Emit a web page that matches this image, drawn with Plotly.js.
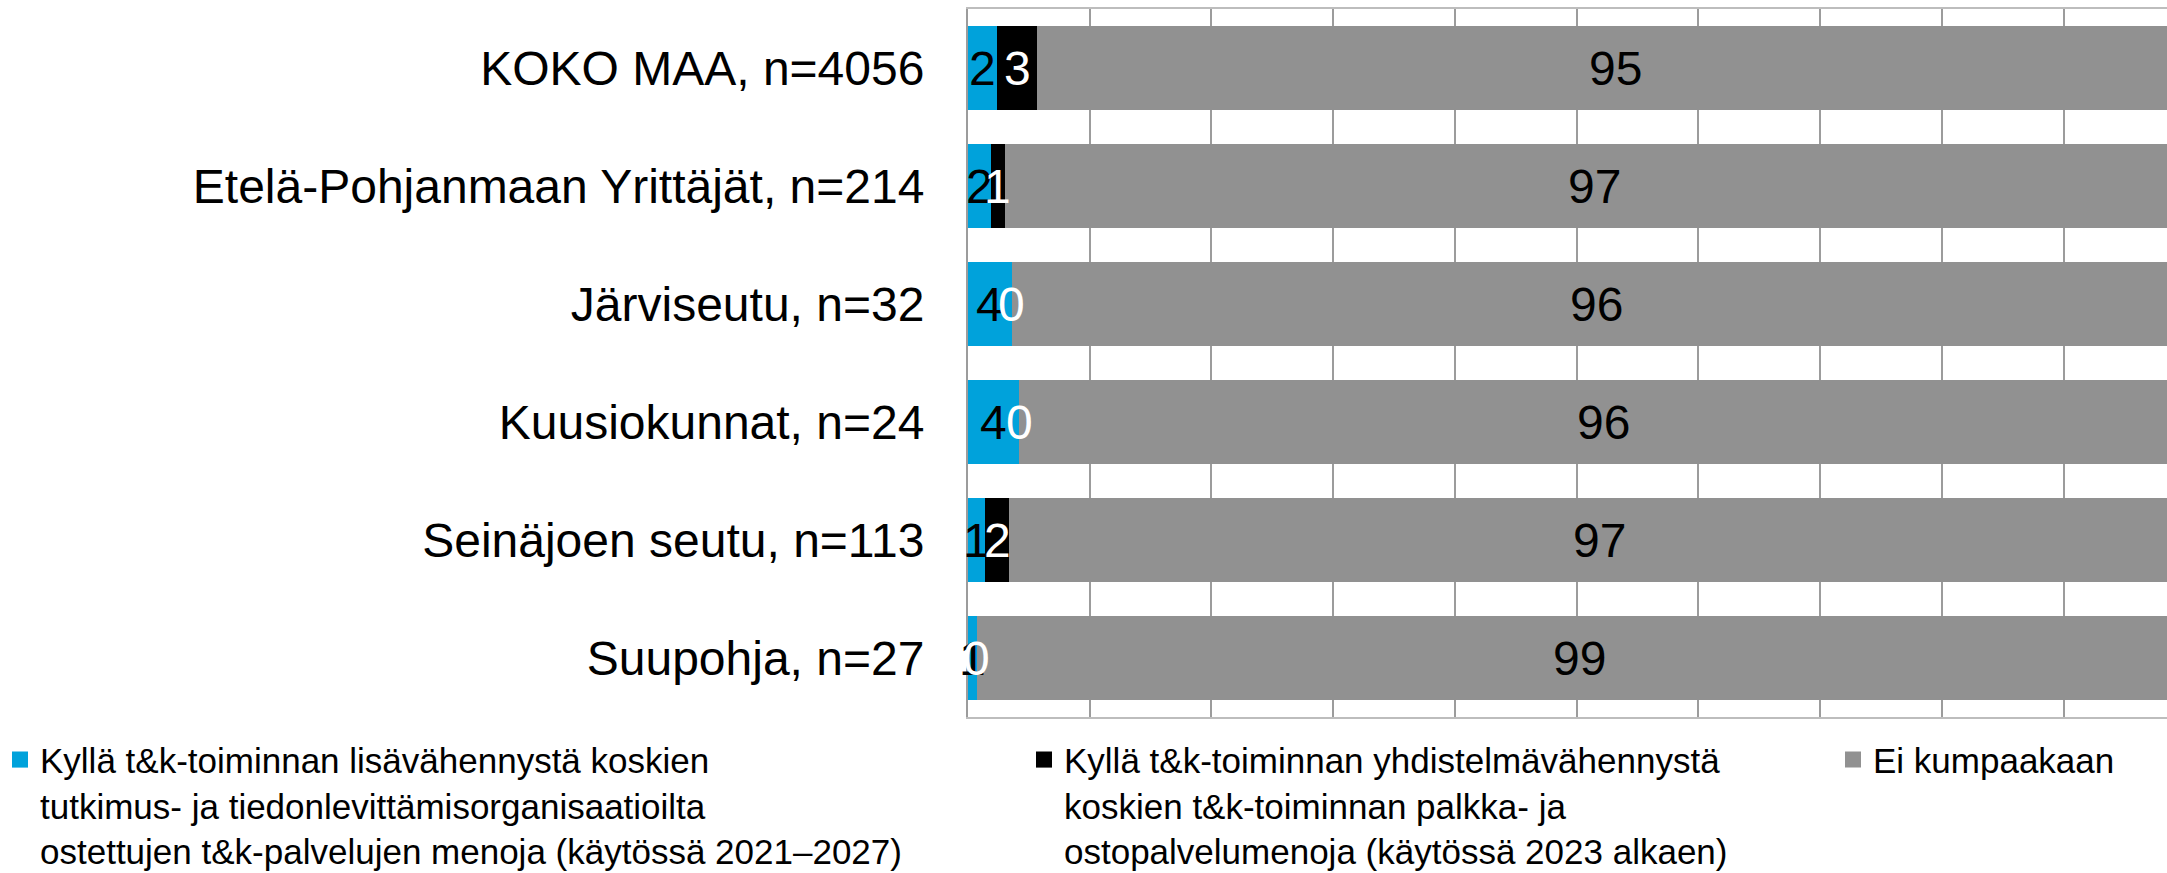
<!DOCTYPE html>
<html><head><meta charset="utf-8">
<script src="https://cdn.plot.ly/plotly-3.0.1.min.js"></script>
<style>html,body{margin:0;padding:0;background:#fff}#chart{width:2167px;height:873px}</style>
</head><body><div id="chart"></div>
<script>
const categories = ["KOKO MAA, n=4056", "Etelä-Pohjanmaan Yrittäjät, n=214", "Järviseutu, n=32", "Kuusiokunnat, n=24", "Seinäjoen seutu, n=113", "Suupohja, n=27"];
const seriesNames = [
  "Kyllä t&k-toiminnan lisävähennystä koskien<br>tutkimus- ja tiedonlevittämisorganisaatioilta<br>ostettujen t&k-palvelujen menoja (käytössä 2021–2027)",
  "Kyllä t&k-toiminnan yhdistelmävähennystä<br>koskien t&k-toiminnan palkka- ja<br>ostopalvelumenoja (käytössä 2023 alkaen)",
  "Ei kumpaakaan"
];
const lisavahennys = [2.4, 1.9, 3.6, 4.2, 1.4, 0.7];
const yhdistelma = [3.3, 1.1, 0, 0, 2.0, 0];
const eiKumpaakaan = [95, 97, 96, 96, 97, 99];
const colors = ["#00A2DB", "#000000", "#919191"];
const labelColors = ["#000000", "#ffffff", "#000000"];

const FONT = "Liberation Sans, Arial, sans-serif";
const series = [lisavahennys, yhdistelma, eiKumpaakaan];
const legendIds = ["legend", "legend2", "legend3"];

const traces = [];
series.forEach((vals, s) => {
  traces.push({
    type: "bar", orientation: "h", x: vals, y: categories,
    marker: {color: colors[s], line: {width: 0}},
    showlegend: false, hoverinfo: "skip"
  });
});
series.forEach((vals, s) => {
  traces.push({
    type: "scatter", mode: "markers", x: [null], y: [null],
    name: seriesNames[s], legend: legendIds[s],
    marker: {symbol: "square", size: 16, color: colors[s]},
    hoverinfo: "skip"
  });
});

const annotations = [];
const base = categories.map(() => 0);
series.forEach((vals, s) => {
  vals.forEach((v, i) => {
    annotations.push({
      x: base[i] + v / 2, y: categories[i], xref: "x", yref: "y",
      text: String(Math.round(v)), showarrow: false,
      font: {family: FONT, size: 48, color: labelColors[s]}
    });
    base[i] += v;
  });
});

const legendCommon = {
  orientation: "h", xref: "container", yref: "container",
  xanchor: "left", yanchor: "top", valign: "top",
  font: {family: FONT, size: 35, color: "#000000"},
  bgcolor: "rgba(0,0,0,0)", borderwidth: 0, itemwidth: 30,
  y: 0.1634
};

const layout = {
  width: 2167, height: 873,
  margin: {l: 968, r: 0, t: 9, b: 156, pad: 0},
  paper_bgcolor: "#ffffff", plot_bgcolor: "#ffffff",
  barmode: "stack", bargap: 0.29,
  hovermode: false,
  font: {family: FONT, color: "#000000"},
  xaxis: {
    range: [0, 98.5], tick0: 0, dtick: 10,
    showgrid: true, gridcolor: "#9c9c9c", gridwidth: 2,
    showticklabels: false, ticks: "", zeroline: false,
    showline: true, mirror: true, linecolor: "#bdbdbd", linewidth: 2,
    fixedrange: true
  },
  yaxis: {
    type: "category", categoryorder: "array", categoryarray: categories,
    autorange: "reversed",
    tickfont: {family: FONT, size: 48, color: "#000000"},
    ticks: "", ticklabelstandoff: 32,
    showgrid: false, zeroline: false,
    showline: true, linecolor: "#9c9c9c", linewidth: 2,
    fixedrange: true
  },
  legend: Object.assign({}, legendCommon, {x: 0}),
  legend2: Object.assign({}, legendCommon, {x: 1024 / 2167}),
  legend3: Object.assign({}, legendCommon, {x: 1833 / 2167}),
  annotations: annotations
};

Plotly.newPlot("chart", traces, layout, {displayModeBar: false, staticPlot: true});
</script>
</body></html>
